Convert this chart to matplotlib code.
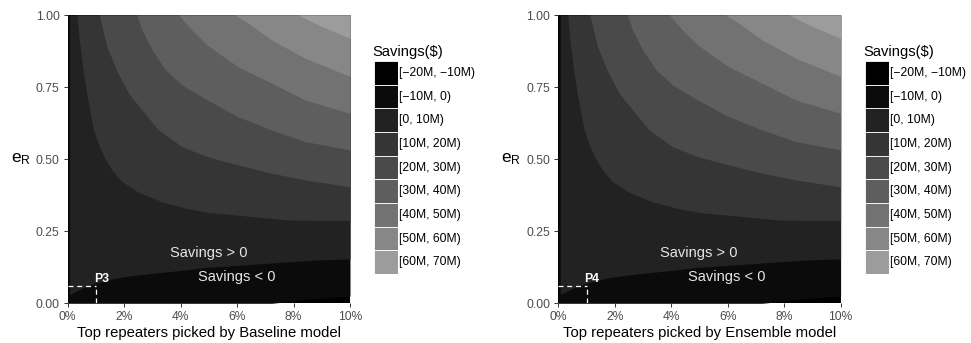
import matplotlib
matplotlib.use("Agg")
import matplotlib.pyplot as plt

plt.rcParams['font.family'] = ['Liberation Sans', 'DejaVu Sans']

# savings bins (legend) and their grey fills
levels = ['[−20M, −10M)', '[−10M, 0)', '[0, 10M)', '[10M, 20M)', '[20M, 30M)',
          '[30M, 40M)', '[40M, 50M)', '[50M, 60M)', '[60M, 70M)']
greys = ['#000000', '#0b0b0b', '#222222', '#353535', '#4a4a4a',
         '#5e5e5e', '#727272', '#878787', '#9c9c9c']

# contour lines: x = top repeaters (%), e = e_R
b_m10_x = [0.0, 7.23, 7.81, 8.52, 9.35, 10.0]
b_m10_e = [0.0, 0.0, 0.006, 0.015, 0.021, 0.025]
b_0_x = [0.07, 0.07, 0.51, 0.98, 1.69, 2.28, 2.99, 3.81, 4.87, 7.1, 8.76, 10.0]
b_0_e = [1.0, 0.03, 0.052, 0.069, 0.087, 0.096, 0.104, 0.112, 0.124, 0.139, 0.150, 0.154]
b_10_x = [0.33, 0.41, 0.53, 0.65, 0.78, 0.92, 1.12, 1.33, 1.57, 1.92, 2.51, 3.34, 4.17, 4.99, 6.64, 7.81, 10.0]
b_10_e = [1.0, 0.913, 0.82, 0.74, 0.67, 0.60, 0.545, 0.50, 0.462, 0.422, 0.385, 0.352, 0.33, 0.315, 0.30, 0.289, 0.287]
b_20_x = [1.12, 1.39, 1.75, 2.16, 2.63, 3.22, 4.05, 4.93, 6.04, 7.23, 8.41, 10.0]
b_20_e = [1.0, 0.89, 0.804, 0.728, 0.671, 0.601, 0.543, 0.509, 0.48, 0.451, 0.428, 0.404]
b_30_x = [2.45, 2.63, 2.99, 3.46, 4.05, 4.64, 4.95, 6.04, 7.23, 8.41, 10.0]
b_30_e = [1.0, 0.948, 0.879, 0.81, 0.757, 0.723, 0.705, 0.647, 0.601, 0.561, 0.532]
b_40_x = [3.93, 4.40, 4.95, 6.04, 7.23, 8.41, 10.0]
b_40_e = [1.0, 0.948, 0.895, 0.82, 0.763, 0.705, 0.659]
b_50_x = [5.93, 6.4, 7.23, 8.41, 10.0]
b_50_e = [1.0, 0.971, 0.913, 0.85, 0.787]
b_60_x = [8.17, 9.0, 10.0]
b_60_e = [1.0, 0.96, 0.919]

bounds = [(b_m10_x, b_m10_e), (b_0_x, b_0_e), (b_10_x, b_10_e), (b_20_x, b_20_e),
          (b_30_x, b_30_e), (b_40_x, b_40_e), (b_50_x, b_50_e), (b_60_x, b_60_e)]

# operating point marked on each panel
point_x = 1.0
point_e = 0.06

panels = [('Top repeaters picked by Baseline model', 'P3', 67.7, 374),
          ('Top repeaters picked by Ensemble model', 'P4', 558.3, 865)]

W, H = 971, 343
fig = plt.figure(figsize=(W / 100, H / 100), dpi=100)


def draw_panel(xlabel, tag, left_px, leg_px):
    ax = fig.add_axes([left_px / W, 1 - 303.3 / H, 282.3 / W, 288.3 / H])
    ax.fill_between([0, 10], 0, 1, color=greys[0], lw=0)
    for (bx, be), col in zip(bounds, greys[1:]):
        ax.fill_between(bx, be, 1, color=col, lw=0)

    ax.plot([0, point_x], [point_e, point_e], color='white', ls=(0, (4, 3)), lw=0.9)
    ax.plot([point_x, point_x], [0, point_e], color='white', ls=(0, (4, 3)), lw=0.9)
    ax.text(point_x - 0.08, point_e + 0.003, tag, color='white', fontsize=8.8,
            fontweight='bold', ha='left', va='bottom')
    ax.text(4.98, 0.173, 'Savings > 0', color='#e6e6e6', fontsize=10.5, ha='center', va='center')
    ax.text(5.98, 0.092, 'Savings < 0', color='#e6e6e6', fontsize=10.5, ha='center', va='center')

    ax.set_xlim(0, 10)
    ax.set_ylim(0, 1)
    ax.set_xticks([0, 2, 4, 6, 8, 10])
    ax.set_xticklabels(['0%', '2%', '4%', '6%', '8%', '10%'])
    ax.set_yticks([0, 0.25, 0.5, 0.75, 1.0])
    ax.set_yticklabels(['0.00', '0.25', '0.50', '0.75', '1.00'])
    for s in ax.spines.values():
        s.set_visible(False)
    ax.tick_params(length=2.8, width=0.7, color='#333333', labelcolor='#4d4d4d',
                   labelsize=8.7, pad=3)
    ax.set_xlabel(xlabel, fontsize=10.7)
    ax.xaxis.set_label_coords(0.5, -0.104)
    ax.xaxis.label.set_va('center')
    ax.set_ylabel(r'$\mathregular{e_R}$', fontsize=12.5, rotation=0, va='center', ha='center')
    ax.yaxis.set_label_coords(-0.167, 0.5)

    # legend drawn as a column of keys
    lg = fig.add_axes([leg_px / W, 1 - 274 / H, 23.7 / W, 213 / H])
    lg.barh(range(len(levels)), 1, height=1, left=0, color=greys,
            edgecolor='white', linewidth=0.6)
    lg.set_xlim(0, 1)
    lg.set_ylim(len(levels) - 0.5, -0.5)
    lg.axis('off')
    for i, lab in enumerate(levels):
        lg.text(1.07, i, lab, fontsize=8.7, color='black', ha='left', va='center', clip_on=False)
    lg.text(-0.05, -0.9, 'Savings($)', fontsize=10.6, ha='left', va='center', clip_on=False)


for xlabel, tag, left_px, leg_px in panels:
    draw_panel(xlabel, tag, left_px, leg_px)

fig.savefig('out.png', dpi=100)
